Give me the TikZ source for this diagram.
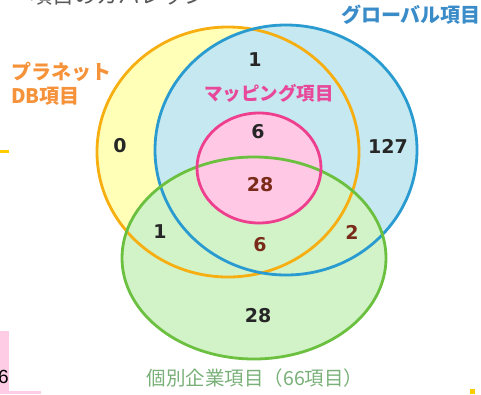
\documentclass[tikz,border=0pt]{standalone}
\usepackage{fontspec}
\newfontfamily\jp{Noto Sans CJK JP}
\newfontfamily\num{DejaVu Sans}
\newfontfamily\lsans{Liberation Sans}
\definecolor{cyel}{HTML}{FFFFB8}
\definecolor{cblu}{HTML}{C6E8F0}
\definecolor{cgrn}{HTML}{D2F2C8}
\definecolor{cpnk}{HTML}{FFC8E4}
\definecolor{lorg}{HTML}{F7AE10}
\definecolor{lblu}{HTML}{2A9BD0}
\definecolor{lgrn}{HTML}{6CC040}
\definecolor{lpnk}{HTML}{EE3E8E}
\definecolor{torg}{HTML}{F5923A}
\definecolor{tblu}{HTML}{3A8CC8}
\definecolor{tpnk}{HTML}{E8489A}
\definecolor{tgrn}{HTML}{78B078}
\definecolor{tbrn}{HTML}{7A2A18}
\definecolor{gold}{HTML}{FFCC00}
\definecolor{mpink}{HTML}{FFCCE6}
\tikzset{
  ring/.style={line width=2.8pt},
  numlbl/.style={font=\num\bfseries\fontsize{19}{19}\selectfont, text=black!85, inner sep=0pt},
  brnlbl/.style={numlbl, text=tbrn},
  jplbl/.style={font=\jp\bfseries\fontsize{20}{24}\selectfont, inner sep=0pt, align=left},
}
\begin{document}
\begin{tikzpicture}[x=1pt,y=-1pt]
\useasboundingbox (0,0) rectangle (481,394);
% fills
\fill[cyel] (228,152) ellipse [x radius=131, y radius=125];
\fill[cblu] (286,150) ellipse [x radius=131, y radius=125];
\fill[cgrn] (254,258) ellipse [x radius=132, y radius=101];
\fill[cpnk] (259,168) ellipse [x radius=62, y radius=55];
% outlines
\draw[ring, lorg] (228,152) ellipse [x radius=131, y radius=125];
\draw[ring, lblu] (286,150) ellipse [x radius=131, y radius=125];
\draw[ring, lgrn] (254,258) ellipse [x radius=132, y radius=101];
\draw[ring, lpnk] (259,168) ellipse [x radius=62, y radius=55];
% labels
\node[text=black!65, anchor=west, inner sep=0pt, font=\jp\fontsize{22}{22}\selectfont] (ttl) at (30,-5) {項目のカバレッジ};
\node[jplbl, text=tblu, anchor=east] (glb) at (481,15) {グローバル項目};
\node[jplbl, text=torg, anchor=north west] (pln) at (11,62) {プラネット\\DB項目};
\node[jplbl, text=tpnk, font=\jp\bfseries\fontsize{18.5}{20}\selectfont] (map) at (269,93) {マッピング項目};
\node[jplbl, text=tgrn, font=\jp\fontsize{19.5}{20}\selectfont] (ind) at (255,378) {個別企業項目（66項目）};
% numbers
\node[numlbl] (n1) at (255,60) {1};
\node[numlbl] (n0) at (120,146) {0};
\node[numlbl] (n6a) at (258,132) {6};
\node[numlbl] (n127) at (388,146) {127};
\node[brnlbl] (n28a) at (260,185) {28};
\node[numlbl] (n1b) at (160,232) {1};
\node[brnlbl] (n2) at (352,232) {2};
\node[brnlbl] (n6b) at (260,245) {6};
\node[numlbl] (n28b) at (258,316) {28};
% edge fragments
\fill[gold] (0,149.5) rectangle (9,153);
\fill[gold] (470,389) rectangle (475,394);
\fill[mpink] (0,331) rectangle (9,394);
\fill[mpink] (0,391) rectangle (41,394);
\node[font=\lsans\fontsize{19}{19}\selectfont, anchor=east, inner sep=0pt] (six) at (9,377) {6};
\end{tikzpicture}
\end{document}
